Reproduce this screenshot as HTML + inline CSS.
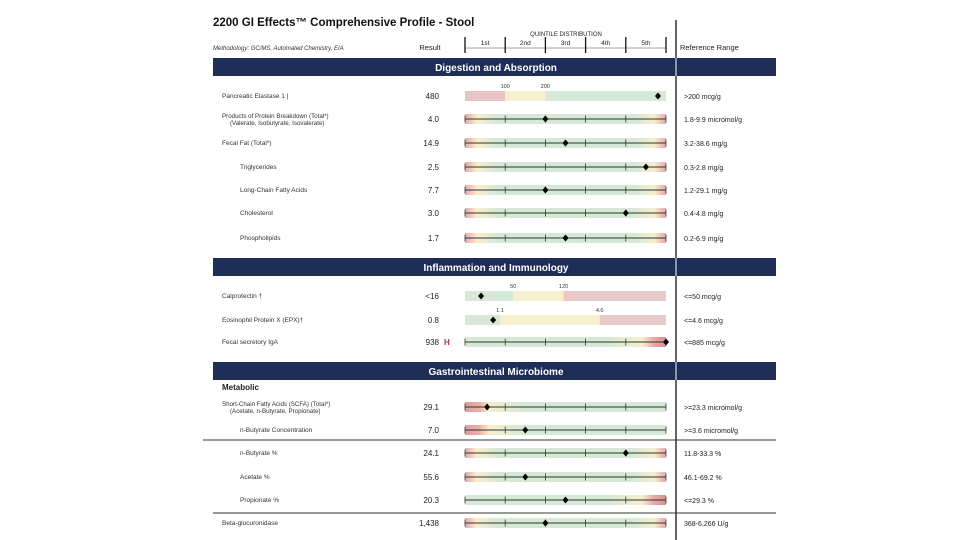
<!DOCTYPE html>
<html><head><meta charset="utf-8"><style>
html,body{margin:0;padding:0;background:#fff;}
svg{display:block;font-family:"Liberation Sans",sans-serif;}
</style></head><body>
<svg id="c" width="960" height="540" viewBox="0 0 960 540">
<defs>
<linearGradient id="gBoth" x1="0" x2="1"><stop offset="0" stop-color="#e6a8a8"/><stop offset="0.06" stop-color="#f6efcc"/><stop offset="0.16" stop-color="#d6e8d6"/><stop offset="0.84" stop-color="#d6e8d6"/><stop offset="0.94" stop-color="#f6efcc"/><stop offset="1" stop-color="#e6a8a8"/></linearGradient>
<linearGradient id="gLow" x1="0" x2="1"><stop offset="0" stop-color="#e29a9a"/><stop offset="0.07" stop-color="#e8b0a8"/><stop offset="0.12" stop-color="#f6efcc"/><stop offset="0.3" stop-color="#d6e8d6"/><stop offset="1" stop-color="#d6e8d6"/></linearGradient>
<linearGradient id="gHigh" x1="0" x2="1"><stop offset="0" stop-color="#d6e8d6"/><stop offset="0.7" stop-color="#d6e8d6"/><stop offset="0.88" stop-color="#f6efcc"/><stop offset="0.94" stop-color="#e8a8a8"/><stop offset="1" stop-color="#dc8f8f"/></linearGradient>
</defs>
<g>
<text x="213" y="26" font-size="11.5" font-weight="bold" fill="#111">2200 GI Effects™ Comprehensive Profile - Stool</text>
<text x="213" y="50" font-size="6" font-style="italic" fill="#333">Methodology: GC/MS, Automated Chemistry, EIA</text>
<text x="430" y="50" font-size="7.5" text-anchor="middle" fill="#222">Result</text>
<text x="566" y="36" font-size="6" text-anchor="middle" fill="#222">QUINTILE DISTRIBUTION</text>
<text x="680" y="50" font-size="7.5" fill="#222">Reference Range</text>
</g>
<g id="quint"></g>
<line x1="676" y1="20" x2="676" y2="540" stroke="#111" stroke-width="1.3"/>
<g id="rows"></g>
</svg>
<script>
// quintile labels
const quintileLabels=["1st","2nd","3rd","4th","5th"];
// row data
const rowLabels=["Pancreatic Elastase 1 |","Products of Protein Breakdown (Total*)","Fecal Fat (Total*)","Triglycerides","Long-Chain Fatty Acids","Cholesterol","Phospholipids","Calprotectin †","Eosinophil Protein X (EPX)†","Fecal secretory IgA","Short-Chain Fatty Acids (SCFA) (Total*)","n-Butyrate Concentration","n-Butyrate %","Acetate %","Propionate %","Beta-glucuronidase"];
const rowResults=["480","4.0","14.9","2.5","7.7","3.0","1.7","<16","0.8","938","29.1","7.0","24.1","55.6","20.3","1,438"];
const rowRanges=[">200 mcg/g","1.8-9.9 micromol/g","3.2-38.6 mg/g","0.3-2.8 mg/g","1.2-29.1 mg/g","0.4-4.8 mg/g","0.2-6.9 mg/g","<=50 mcg/g","<=4.6 mcg/g","<=885 mcg/g",">=23.3 micromol/g",">=3.6 micromol/g","11.8-33.3 %","46.1-69.2 %","<=29.3 %","368-6,266 U/g"];
// marker positions on quintile scale (0-5)
const markerQuintile=[4.8,2.0,2.5,4.5,2.0,4.0,2.5,0.4,0.7,5.0,0.55,1.5,4.0,1.5,2.5,2.0];
// cutoff values for segmented bars (quintile-scale positions + printed labels)
const elastaseCuts=[1.0,2.0]; const elastaseCutLabels=["100","200"];
const calproCuts=[1.2,2.45]; const calproCutLabels=["50","120"];
const epxCuts=[0.87,3.35]; const epxCutLabels=["1.1","4.6"];

const X0=465,X1=666;
const xq=q=>X0+(X1-X0)*q/5;
const NS="http://www.w3.org/2000/svg";
const rowsG=document.getElementById('rows');
function mk(tag,attrs,parent,txt){const e=document.createElementNS(NS,tag);for(const k in attrs)e.setAttribute(k,attrs[k]);if(txt!==undefined)e.textContent=txt;(parent||rowsG).appendChild(e);return e;}

// quintile scale
const qg=document.getElementById('quint');
mk('line',{x1:xq(0),y1:48,x2:xq(5),y2:48,stroke:'#888','stroke-width':0.8},qg);
for(let i=0;i<=5;i++){const t=mk('line',{x1:xq(i),y1:37,x2:xq(i),y2:53,stroke:'#111','stroke-width':1.3},qg);

}
quintileLabels.forEach((l,i)=>{const t=mk('text',{x:xq(i+0.5),y:45,'font-size':6.5,'text-anchor':'middle',fill:'#222'},qg,l);

});

// section bands
function band(y,label,name){
const g=mk('g',{});


mk('rect',{x:213,y:y,width:563,height:18,fill:'#1e2d57'},g);
mk('line',{x1:676,y1:y,x2:676,y2:y+18,stroke:'#fff','stroke-width':1},g);
mk('text',{x:496,y:y+13,'font-size':10,'font-weight':'bold','text-anchor':'middle',fill:'#fff'},g,label);}
band(58,'Digestion and Absorption','section-digestion');
band(258,'Inflammation and Immunology','section-inflammation');
band(362,'Gastrointestinal Microbiome','section-microbiome');
const mt=mk('text',{x:222,y:390,'font-size':8,'font-weight':'bold',fill:'#222'},rowsG,'Metabolic');


[[440,203],[513,213]].forEach(([y,x])=>{const l=mk('line',{x1:x,y1:y,x2:776,y2:y,stroke:'#333','stroke-width':1});

});

const rowY=[96,119,143,167,190,213,238,296,320,342,407,430,453,477,500,523];
const indent=[0,0,0,1,1,1,1,0,0,0,0,1,1,1,1,0];
const sub={1:"(Valerate, Isobutyrate, Isovalerate)",10:"(Acetate, n-Butyrate, Propionate)"};
const kind=['seg','both','both','both','both','both','both','seg','seg','high','low','low','both','both','high','both'];
const segs={0:[elastaseCuts,elastaseCutLabels,['#e8c4c4','#f6f0d0','#d6e8d6']],7:[calproCuts,calproCutLabels,['#d6e8d6','#f6f0d0','#e8c8c8']],8:[epxCuts,epxCutLabels,['#d6e8d6','#f6f0d0','#e8c8c8']]};

rowLabels.forEach((lab,i)=>{
const y=rowY[i];
const g=mk('g',{});


const lx=indent[i]?240:222;
if(sub[i]){mk('text',{x:lx,y:y-1,'font-size':6.2,fill:'#333'},g,lab);mk('text',{x:lx+8,y:y+6,'font-size':6.2,fill:'#333'},g,sub[i]);}
else mk('text',{x:lx,y:y+2,'font-size':6.5,fill:'#333'},g,lab);
const rt=mk('text',{x:439,y:y+3,'font-size':8,'text-anchor':'end',fill:'#222'},g,rowResults[i]);


if(i===9)mk('text',{x:444,y:y+3,'font-size':8,'font-weight':'bold',fill:'#c0392b'},g,'H');
mk('text',{x:684,y:y+3,'font-size':7,fill:'#222'},g,rowRanges[i]);
if(kind[i]==='seg'){
const [cuts,cl,cols]=segs[i];const b=[0,...cuts,5];
for(let k=0;k<3;k++)mk('rect',{x:xq(b[k]),y:y-5,width:xq(b[k+1])-xq(b[k]),height:10,fill:cols[k]},g);
cuts.forEach((c,k)=>mk('text',{x:xq(c),y:y-8,'font-size':5.5,'text-anchor':'middle',fill:'#333'},g,cl[k]));
}else{
const f={both:'gBoth',low:'gLow',high:'gHigh'}[kind[i]];
mk('rect',{x:X0,y:y-5,width:X1-X0,height:10,fill:'url(#'+f+')'},g);
mk('line',{x1:X0,y1:y,x2:X1,y2:y,stroke:'#333','stroke-width':0.9},g);
for(let k=0;k<=5;k++)mk('line',{x1:xq(k),y1:y-3.5,x2:xq(k),y2:y+3.5,stroke:'#333','stroke-width':0.8},g);
}
const m=mk('path',{d:`M${xq(markerQuintile[i])},${y-3.5}l3,3.5l-3,3.5l-3,-3.5z`,fill:'#000'},g);


});
</script>
</body></html>
